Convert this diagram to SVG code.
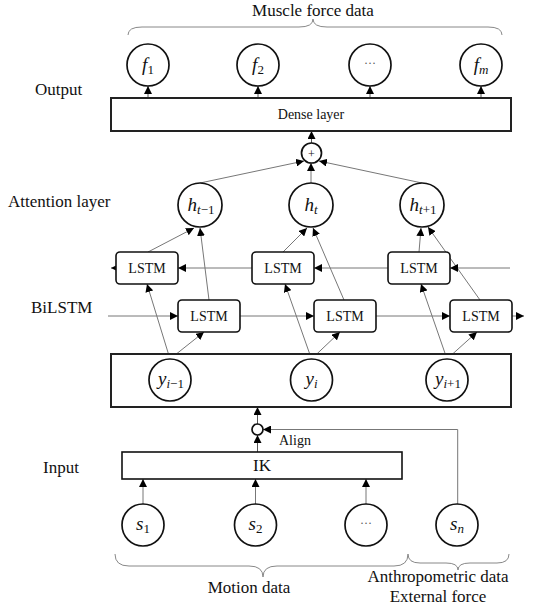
<svg xmlns="http://www.w3.org/2000/svg" width="557" height="611" viewBox="0 0 557 611">
<defs>
<marker id="ah" viewBox="0 0 8 8" refX="8" refY="4" markerWidth="8" markerHeight="8" markerUnits="userSpaceOnUse" orient="auto">
<path d="M0,0 L8,4 L0,8 Z" fill="#000"/>
</marker>
</defs>
<style>
.lbl{font-family:"Liberation Serif","Times New Roman",serif;font-size:17px;fill:#111}
.sm{font-family:"Liberation Serif","Times New Roman",serif;font-size:14px;fill:#111}
.math{font-family:"Liberation Serif","Times New Roman",serif;font-style:italic;font-size:19px;fill:#111}
.sub{font-size:13px}
.up{font-style:normal}
.node{fill:#fff;stroke:#111;stroke-width:1.7}
.box{fill:#fff;stroke:#222;stroke-width:2}
.lstm{fill:#fff;stroke:#111;stroke-width:1.6}
.conn{fill:none;stroke:#777;stroke-width:1;marker-end:url(#ah)}
.connb{fill:none;stroke:#555;stroke-width:1;marker-end:url(#ah)}
.brace{fill:none;stroke:#888;stroke-width:1}
.dots{font-family:"Liberation Serif",serif;font-size:12px;fill:#555}
</style>

<rect width="557" height="611" fill="#fff"/>

<g id="labels">
<text class="lbl" x="313" y="16" text-anchor="middle">Muscle force data</text>
<text class="lbl" x="35" y="95">Output</text>
<text class="lbl" x="8" y="207">Attention layer</text>
<text class="lbl" x="31" y="313">BiLSTM</text>
<text class="lbl" x="43" y="473">Input</text>
<text class="lbl" x="249" y="593" text-anchor="middle">Motion data</text>
<text class="lbl" x="438" y="582" text-anchor="middle">Anthropometric data</text>
<text class="lbl" x="438" y="602" text-anchor="middle">External force</text>
<text class="sm" x="279" y="445">Align</text>
</g>

<g id="braces">
<path class="brace" d="M128,35 Q128,27 142,27 L299,27 Q313,27 313,19 Q313,27 327,27 L488,27 Q502,27 502,35"/>
<path class="brace" d="M115,554 Q115,566 129,566 L249,566 Q263,566 263,577 Q263,566 277,566 L394,566 Q408,566 408,554"/>
<path class="brace" d="M408,554 Q408,563 420,563 L446,563 Q458,563 458,570 Q458,563 470,563 L497,563 Q509,563 509,554"/>
</g>

<g id="connectors">
<line class="connb" x1="148" y1="98" x2="148" y2="86"/>
<line class="connb" x1="258" y1="98" x2="258" y2="86"/>
<line class="connb" x1="370" y1="98" x2="370" y2="86"/>
<line class="connb" x1="481" y1="98" x2="481" y2="86"/>
<line class="connb" x1="311.5" y1="143" x2="311.5" y2="131"/>
<line class="conn" x1="200" y1="183" x2="304" y2="161"/>
<line class="conn" x1="311" y1="183" x2="311" y2="163"/>
<line class="conn" x1="422" y1="183" x2="319" y2="161"/>
<line class="conn" x1="148" y1="252" x2="194" y2="228"/>
<line class="conn" x1="209" y1="300" x2="200" y2="228"/>
<line class="conn" x1="283" y1="252" x2="307" y2="228"/>
<line class="conn" x1="344" y1="300" x2="313" y2="228"/>
<line class="conn" x1="419" y1="252" x2="421" y2="228"/>
<line class="conn" x1="480" y1="300" x2="428" y2="227"/>
<line class="conn" x1="108" y1="316" x2="178" y2="316"/>
<line class="conn" x1="240" y1="316" x2="314" y2="316"/>
<line class="conn" x1="376" y1="316" x2="450" y2="316"/>
<line class="conn" x1="512" y1="316" x2="524" y2="316"/>
<line class="conn" x1="510" y1="268" x2="450" y2="268"/>
<line class="conn" x1="388" y1="268" x2="314" y2="268"/>
<line class="conn" x1="252" y1="268" x2="178" y2="268"/>
<line class="conn" x1="116" y1="268" x2="111" y2="268"/>
<line class="conn" x1="170" y1="359" x2="147" y2="284"/>
<line class="conn" x1="170" y1="359" x2="204" y2="332"/>
<line class="conn" x1="311.5" y1="359" x2="285" y2="284"/>
<line class="conn" x1="311.5" y1="359" x2="340" y2="332"/>
<line class="conn" x1="447" y1="359" x2="421" y2="284"/>
<line class="conn" x1="447" y1="359" x2="477" y2="332"/>
<line class="connb" x1="257.5" y1="424" x2="257.5" y2="407"/>
<line class="connb" x1="257.5" y1="452" x2="257.5" y2="435"/>
<path class="conn" d="M457.7,504 L457.7,429.5 L263,429.5"/>
<line class="conn" x1="143" y1="504" x2="143" y2="479"/>
<line class="conn" x1="255.5" y1="504" x2="255.5" y2="479"/>
<line class="conn" x1="366" y1="504" x2="366" y2="479"/>
</g>

<g id="f1"><circle class="node" cx="148" cy="65" r="21"/><text class="math" x="148" y="71" text-anchor="middle">f<tspan class="sub up" dy="3">1</tspan></text></g>
<g id="f2"><circle class="node" cx="258" cy="65" r="21"/><text class="math" x="258" y="71" text-anchor="middle">f<tspan class="sub up" dy="3">2</tspan></text></g>
<g id="fdots"><circle class="node" cx="370" cy="65" r="21"/><text class="dots" x="370" y="67" text-anchor="middle">···</text></g>
<g id="fm"><circle class="node" cx="481" cy="65" r="21"/><text class="math" x="481" y="71" text-anchor="middle">f<tspan class="sub" dy="3">m</tspan></text></g>

<g id="dense"><rect class="box" x="111" y="98" width="400" height="33"/><text class="sm" x="311" y="119" text-anchor="middle">Dense layer</text></g>

<g id="plus"><circle class="node" cx="311.5" cy="153" r="10"/><text class="dots" x="311.5" y="157.5" text-anchor="middle" style="fill:#111">+</text></g>

<g id="h1"><circle class="node" cx="200" cy="205" r="22"/><text class="math" x="201" y="211" text-anchor="middle">h<tspan class="sub" dy="3">t</tspan><tspan class="sub up">−1</tspan></text></g>
<g id="h2"><circle class="node" cx="311" cy="205" r="22"/><text class="math" x="311" y="211" text-anchor="middle">h<tspan class="sub" dy="3">t</tspan></text></g>
<g id="h3"><circle class="node" cx="422" cy="205" r="22"/><text class="math" x="423" y="211" text-anchor="middle">h<tspan class="sub" dy="3">t</tspan><tspan class="sub up">+1</tspan></text></g>

<g id="lstm_b1"><rect class="lstm" x="116" y="252" width="62" height="32" rx="4"/><text class="sm" x="147" y="273" text-anchor="middle">LSTM</text></g>
<g id="lstm_b2"><rect class="lstm" x="252" y="252" width="62" height="32" rx="4"/><text class="sm" x="283" y="273" text-anchor="middle">LSTM</text></g>
<g id="lstm_b3"><rect class="lstm" x="388" y="252" width="62" height="32" rx="4"/><text class="sm" x="419" y="273" text-anchor="middle">LSTM</text></g>
<g id="lstm_f1"><rect class="lstm" x="178" y="300" width="62" height="32" rx="4"/><text class="sm" x="209" y="321" text-anchor="middle">LSTM</text></g>
<g id="lstm_f2"><rect class="lstm" x="314" y="300" width="62" height="32" rx="4"/><text class="sm" x="345" y="321" text-anchor="middle">LSTM</text></g>
<g id="lstm_f3"><rect class="lstm" x="450" y="300" width="62" height="32" rx="4"/><text class="sm" x="481" y="321" text-anchor="middle">LSTM</text></g>

<g id="ybox"><rect class="box" x="111" y="354" width="400" height="53"/></g>
<g id="y1"><circle class="node" cx="170" cy="380" r="21"/><text class="math" x="171" y="385" text-anchor="middle">y<tspan class="sub" dy="3">i</tspan><tspan class="sub up">−1</tspan></text></g>
<g id="y2"><circle class="node" cx="311.5" cy="380" r="21"/><text class="math" x="311.5" y="385" text-anchor="middle">y<tspan class="sub" dy="3">i</tspan></text></g>
<g id="y3"><circle class="node" cx="447" cy="380" r="21"/><text class="math" x="448" y="385" text-anchor="middle">y<tspan class="sub" dy="3">i</tspan><tspan class="sub up">+1</tspan></text></g>

<g id="align"><circle class="node" cx="257.5" cy="429.5" r="5.5"/></g>

<g id="ik"><rect class="lstm" x="122" y="452" width="280" height="27"/><text class="lbl" x="262" y="471" text-anchor="middle">IK</text></g>

<g id="s1"><circle class="node" cx="143" cy="525" r="21"/><text class="math" x="143" y="530" text-anchor="middle">s<tspan class="sub up" dy="3">1</tspan></text></g>
<g id="s2"><circle class="node" cx="255.5" cy="525" r="21"/><text class="math" x="255.5" y="530" text-anchor="middle">s<tspan class="sub up" dy="3">2</tspan></text></g>
<g id="sdots"><circle class="node" cx="366" cy="525" r="21"/><text class="dots" x="366" y="527" text-anchor="middle">···</text></g>
<g id="sn"><circle class="node" cx="457" cy="525" r="21"/><text class="math" x="457" y="530" text-anchor="middle">s<tspan class="sub" dy="3">n</tspan></text></g>
</svg>
